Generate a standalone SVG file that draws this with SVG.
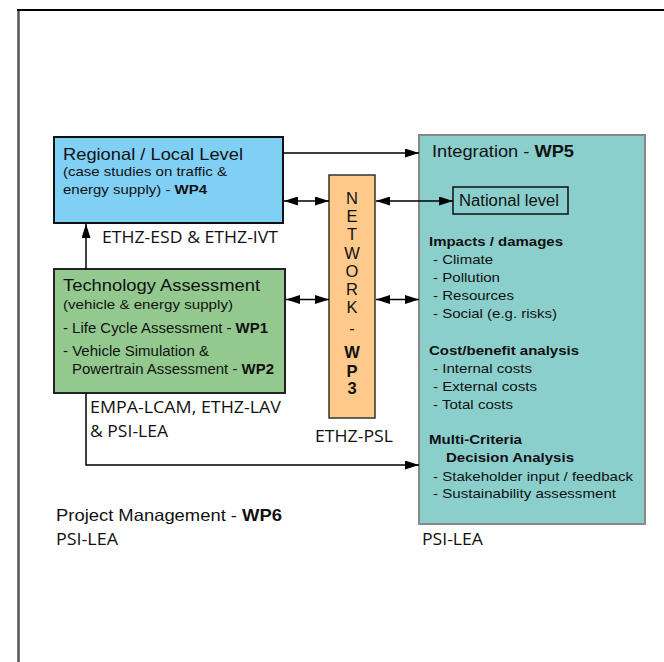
<svg xmlns="http://www.w3.org/2000/svg" width="664" height="662" viewBox="0 0 664 662">
<style>
.a{font-family:"Liberation Sans",Arial,sans-serif;fill:#111}
.h{font-size:16.5px}
.s{font-size:13.5px}
.m{font-size:14px}
.b{font-weight:bold}
.my{font-family:"Open Sans","Noto Sans",sans-serif;font-size:17px;fill:#111}
.c{fill:none;stroke:#000;stroke-width:1.5}
</style>
<defs>
<marker id="ah" viewBox="0 0 14 9" refX="14" refY="4.5" markerWidth="14" markerHeight="9" markerUnits="userSpaceOnUse" orient="auto-start-reverse">
<path d="M0,0 L14,4.5 L0,9 z" fill="#000"/>
</marker>
</defs>
<rect width="664" height="662" fill="#fff"/>
<g id="frame">
<line x1="18.5" y1="9" x2="18.5" y2="662" stroke="#555" stroke-width="2.5"/>
<line x1="17" y1="10" x2="664" y2="10" stroke="#000" stroke-width="2"/>
</g>
<g id="regional">
<rect x="54" y="137" width="229" height="86" fill="#80CFF5" stroke="#111" stroke-width="2"/>
<text class="a h" x="63" y="160" textLength="180" lengthAdjust="spacingAndGlyphs">Regional / Local Level</text>
<text class="a s" x="63" y="176" textLength="164" lengthAdjust="spacingAndGlyphs">(case studies on traffic &amp;</text>
<text class="a s" x="63" y="194" textLength="144" lengthAdjust="spacingAndGlyphs">energy supply) - <tspan class="b">WP4</tspan></text>
<text class="my" x="102" y="243" textLength="176" lengthAdjust="spacingAndGlyphs">ETHZ-ESD &amp; ETHZ-IVT</text>
</g>
<g id="technology">
<rect x="54" y="269" width="231" height="124" fill="#93C98E" stroke="#222" stroke-width="2"/>
<text class="a h" x="63" y="291" textLength="197" lengthAdjust="spacingAndGlyphs">Technology Assessment</text>
<text class="a s" x="63" y="309" textLength="170" lengthAdjust="spacingAndGlyphs">(vehicle &amp; energy supply)</text>
<text class="a m" x="63" y="333" textLength="205" lengthAdjust="spacingAndGlyphs">- Life Cycle Assessment - <tspan class="b">WP1</tspan></text>
<text class="a m" x="63" y="356" textLength="146" lengthAdjust="spacingAndGlyphs">- Vehicle Simulation &amp;</text>
<text class="a m" x="72" y="374" textLength="202" lengthAdjust="spacingAndGlyphs">Powertrain Assessment - <tspan class="b">WP2</tspan></text>
<text class="my" x="90" y="413" textLength="191" lengthAdjust="spacingAndGlyphs">EMPA-LCAM, ETHZ-LAV</text>
<text class="my" x="90" y="437" textLength="78" lengthAdjust="spacingAndGlyphs">&amp; PSI-LEA</text>
</g>
<g id="network">
<rect x="329" y="175" width="46" height="243" fill="#FDCA8C" stroke="#333" stroke-width="1.5"/>
<g class="a h" text-anchor="middle">
<text x="352" y="203.5">N</text>
<text x="352" y="221.8">E</text>
<text x="352" y="240">T</text>
<text x="352" y="258.5">W</text>
<text x="352" y="276.8">O</text>
<text x="352" y="295">R</text>
<text x="352" y="313.3">K</text>
<text x="352" y="334">-</text>
<text class="b" x="352" y="358">W</text>
<text class="b" x="352" y="376.5">P</text>
<text class="b" x="352" y="393.5">3</text>
</g>
<text class="my" x="315" y="442" textLength="78" lengthAdjust="spacingAndGlyphs">ETHZ-PSL</text>
</g>
<g id="integration">
<rect x="419" y="135" width="226" height="389" fill="#8BCFCD" stroke="#888" stroke-width="2"/>
<text class="a h" x="432" y="157" textLength="142" lengthAdjust="spacingAndGlyphs">Integration - <tspan class="b">WP5</tspan></text>
<text class="a s b" x="429" y="246" textLength="134" lengthAdjust="spacingAndGlyphs">Impacts / damages</text>
<text class="a s" x="433" y="264" textLength="60" lengthAdjust="spacingAndGlyphs">- Climate</text>
<text class="a s" x="433" y="282" textLength="67" lengthAdjust="spacingAndGlyphs">- Pollution</text>
<text class="a s" x="433" y="299.5" textLength="81" lengthAdjust="spacingAndGlyphs">- Resources</text>
<text class="a s" x="433" y="318" textLength="124" lengthAdjust="spacingAndGlyphs">- Social (e.g. risks)</text>
<text class="a s b" x="429" y="355" textLength="150" lengthAdjust="spacingAndGlyphs">Cost/benefit analysis</text>
<text class="a s" x="433" y="373" textLength="99" lengthAdjust="spacingAndGlyphs">- Internal costs</text>
<text class="a s" x="433" y="391" textLength="104" lengthAdjust="spacingAndGlyphs">- External costs</text>
<text class="a s" x="433" y="409" textLength="80" lengthAdjust="spacingAndGlyphs">- Total costs</text>
<text class="a s b" x="429" y="444" textLength="93" lengthAdjust="spacingAndGlyphs">Multi-Criteria</text>
<text class="a s b" x="446" y="462" textLength="128" lengthAdjust="spacingAndGlyphs">Decision Analysis</text>
<text class="a s" x="433" y="480.5" textLength="200" lengthAdjust="spacingAndGlyphs">- Stakeholder input / feedback</text>
<text class="a s" x="433" y="498" textLength="183" lengthAdjust="spacingAndGlyphs">- Sustainability assessment</text>
<text class="my" x="422" y="545" textLength="61" lengthAdjust="spacingAndGlyphs">PSI-LEA</text>
</g>
<g id="national">
<rect x="453" y="187" width="115" height="27" fill="none" stroke="#111" stroke-width="1.5"/>
<text class="a" font-size="16" x="459" y="206" textLength="100" lengthAdjust="spacingAndGlyphs">National level</text>
</g>
<g id="management">
<text class="a h" x="56" y="521" textLength="226" lengthAdjust="spacingAndGlyphs">Project Management - <tspan class="b">WP6</tspan></text>
<text class="my" x="56" y="545" textLength="62" lengthAdjust="spacingAndGlyphs">PSI-LEA</text>
</g>
<g id="connectors">
<path class="c" d="M283,153 H419" marker-end="url(#ah)"/>
<path class="c" d="M284,201 H329" marker-start="url(#ah)" marker-end="url(#ah)"/>
<path class="c" d="M376,201 H453" marker-start="url(#ah)" marker-end="url(#ah)"/>
<path class="c" d="M286,299.5 H329" marker-start="url(#ah)" marker-end="url(#ah)"/>
<path class="c" d="M376,299.5 H419" marker-start="url(#ah)" marker-end="url(#ah)"/>
<path class="c" d="M86,269 V224" marker-end="url(#ah)"/>
<path class="c" d="M86,393 V465 H419" marker-end="url(#ah)"/>
</g>
</svg>
